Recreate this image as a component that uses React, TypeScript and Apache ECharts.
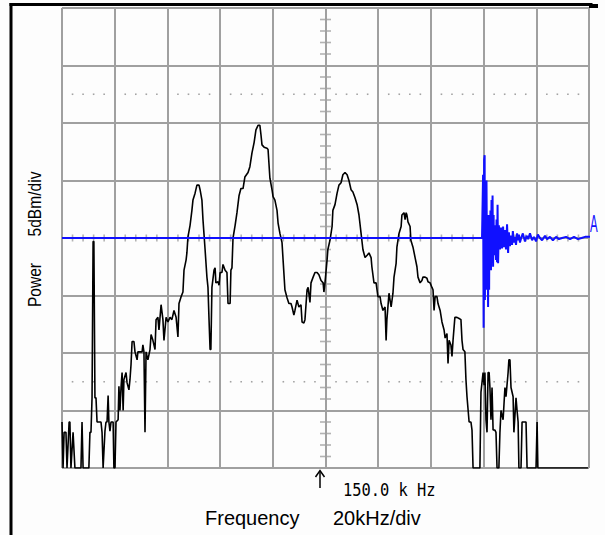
import React, { useEffect, useRef } from "react";
import * as echarts from "echarts";

// ---- Data (frequency in kHz, level in dBm; 20 kHz/div, 5 dBm/div) ----
const spectrumFreqKHz = [
  50.0, 50.4, 50.8, 51.5, 51.9, 52.7, 53.0, 53.4, 54.2, 54.9, 57.2, 57.6, 58.0, 60.2, 60.6, 61.0, 61.4, 61.8, 62.1, 62.5,
  62.9, 63.3, 64.8, 65.2, 65.6, 66.3, 66.7, 67.1, 67.5, 67.8, 68.2, 68.6, 69.4, 69.7, 70.1, 70.5, 71.3, 71.6, 72.0, 72.4,
  72.8, 73.2, 73.5, 74.3, 74.7, 75.4, 75.8, 76.2, 76.6, 77.3, 77.7, 78.5, 78.8, 79.6, 80.4, 80.7, 81.1, 81.5, 81.9, 82.6,
  83.4, 83.8, 84.5, 85.3, 85.7, 86.4, 86.8, 87.6, 88.3, 88.7, 89.5, 90.2, 91.0, 91.7, 92.5, 93.3, 94.0, 94.4, 95.2, 95.9,
  96.3, 97.1, 97.4, 97.8, 98.6, 99.3, 99.7, 100.5, 101.2, 102.0, 102.4, 103.1, 103.5, 104.3, 105.0, 105.4, 105.8, 106.2, 106.5, 106.9,
  107.7, 108.1, 108.4, 109.2, 109.6, 110.0, 110.7, 111.1, 111.9, 112.6, 113.0, 113.8, 114.1, 114.5, 114.9, 115.7, 116.4, 117.2, 117.9, 118.7,
  119.4, 120.6, 121.3, 122.1, 122.9, 123.6, 124.4, 125.1, 125.5, 125.9, 126.7, 127.8, 128.2, 128.9, 129.7, 130.1, 130.8, 131.6, 132.0, 132.7,
  133.5, 133.9, 134.6, 135.4, 136.1, 136.9, 137.3, 138.0, 138.4, 139.2, 139.9, 140.7, 141.1, 141.8, 142.2, 143.0, 143.4, 144.1, 144.5, 145.3,
  146.0, 146.8, 147.5, 148.3, 149.1, 149.4, 149.8, 150.6, 150.9, 151.7, 152.5, 152.8, 153.6, 154.4, 155.1, 155.9, 156.6, 157.4, 158.2, 158.9,
  159.7, 160.4, 161.2, 162.0, 162.7, 163.5, 164.2, 165.0, 165.8, 166.5, 167.3, 167.6, 168.4, 169.2, 169.9, 170.7, 171.1, 171.8, 172.6, 173.0,
  173.3, 174.1, 174.9, 175.6, 176.0, 176.8, 177.1, 177.9, 178.7, 179.0, 179.8, 180.2, 180.6, 180.9, 181.3, 182.1, 182.4, 183.2, 184.0, 184.7,
  185.1, 185.9, 186.6, 187.0, 187.8, 188.5, 188.9, 189.7, 190.4, 190.8, 191.2, 191.6, 192.3, 192.7, 193.5, 194.2, 195.0, 195.4, 196.1, 196.5,
  196.9, 197.6, 198.0, 198.4, 199.1, 199.9, 200.7, 201.4, 201.8, 202.2, 202.9, 203.3, 203.7, 204.5, 205.2, 205.6, 206.0, 208.6, 209.0, 209.8,
  210.2, 210.5, 210.9, 211.3, 211.7, 212.1, 212.4, 212.8, 213.2, 213.6, 214.3, 214.7, 215.1, 215.8, 216.2, 216.6, 217.4, 218.1, 218.5, 219.3,
  219.6, 220.0, 220.4, 221.2, 221.5, 222.3, 222.7, 223.1, 223.4, 224.2, 224.6, 226.1, 226.5, 229.9, 230.3, 230.6, 249.6,
];
const spectrumLevelDbm = [
  -36.0, -40.0, -36.9, -36.9, -40.0, -36.0, -36.0, -40.0, -36.9, -40.0, -40.0, -36.0, -40.0, -40.0, -36.9, -36.9, -33.9, -20.3, -20.3, -33.9,
  -33.9, -36.0, -36.0, -36.9, -40.0, -36.8, -36.0, -36.0, -33.7, -36.0, -36.8, -36.0, -36.0, -40.0, -40.0, -36.0, -35.8, -32.9, -35.0, -33.0,
  -31.7, -35.0, -32.3, -31.7, -32.6, -33.2, -32.3, -31.0, -29.0, -29.0, -29.9, -30.6, -29.9, -29.9, -29.9, -29.3, -29.9, -36.9, -29.9, -30.6,
  -29.7, -28.4, -28.9, -29.7, -27.1, -26.9, -28.0, -25.8, -27.1, -28.9, -26.9, -27.3, -26.9, -27.1, -26.3, -26.9, -28.6, -25.7, -25.1, -24.7,
  -22.8, -21.9, -21.3, -19.9, -18.9, -17.6, -16.7, -16.1, -15.4, -15.4, -15.8, -16.7, -18.4, -21.0, -23.4, -24.3, -27.1, -29.7, -29.7, -24.3,
  -22.8, -22.6, -23.9, -23.8, -24.1, -23.0, -23.0, -22.3, -22.8, -23.0, -25.7, -25.7, -22.8, -22.6, -20.0, -18.9, -17.8, -16.3, -15.7, -15.7,
  -14.7, -14.3, -13.8, -12.6, -11.7, -10.6, -10.2, -10.2, -11.0, -11.9, -12.1, -12.2, -12.3, -14.8, -15.8, -16.4, -16.7, -17.6, -18.7, -19.6,
  -20.4, -21.9, -24.5, -25.2, -25.7, -25.7, -26.0, -26.7, -26.3, -25.4, -26.0, -25.8, -27.3, -27.4, -27.1, -24.5, -24.3, -25.6, -23.9, -23.4,
  -23.0, -23.0, -23.2, -23.7, -23.9, -24.7, -23.9, -21.9, -21.0, -20.2, -19.0, -17.6, -17.1, -16.1, -15.4, -15.2, -14.5, -14.3, -14.5, -15.0,
  -15.8, -16.0, -16.5, -17.1, -18.0, -19.6, -21.0, -21.7, -21.5, -21.3, -21.7, -22.5, -23.9, -23.9, -25.1, -25.1, -25.7, -26.3, -26.0, -28.9,
  -27.1, -24.8, -26.0, -24.8, -23.4, -22.2, -20.8, -19.6, -19.0, -18.0, -17.8, -18.4, -17.8, -18.0, -18.6, -19.0, -20.2, -20.8, -21.7, -22.5,
  -23.4, -23.9, -23.7, -23.4, -23.4, -23.5, -23.8, -23.9, -24.3, -24.5, -26.3, -25.1, -25.1, -25.7, -26.3, -27.3, -28.0, -28.7, -28.3, -30.9,
  -28.9, -29.3, -30.3, -28.9, -26.9, -26.9, -27.0, -27.1, -28.9, -29.7, -29.9, -32.3, -33.8, -36.0, -36.0, -36.7, -40.0, -40.0, -33.4, -31.7,
  -32.8, -31.7, -35.8, -36.9, -31.7, -31.7, -33.0, -35.8, -33.0, -36.7, -36.7, -36.9, -40.0, -40.0, -36.9, -35.0, -35.8, -33.0, -33.8, -31.7,
  -30.6, -30.6, -33.0, -33.8, -36.9, -33.9, -35.0, -36.0, -40.0, -40.0, -36.0, -36.0, -40.0, -40.0, -36.0, -40.0, -40.0,
];

const burstFreqKHz = [
  50.0, 209.4, 209.8, 210.0, 210.2, 210.4, 210.5, 210.7, 210.9, 211.1, 211.3, 211.5, 211.7, 211.9, 212.1, 212.2, 212.4, 212.6, 212.8, 213.0,
  213.2, 213.4, 213.6, 213.8, 213.9, 214.3, 214.7, 214.9, 215.1, 215.3, 215.5, 215.8, 216.2, 216.6, 217.0, 217.4, 217.7, 218.1, 218.5, 218.9,
  219.3, 219.6, 220.0, 220.4, 220.8, 221.1, 221.5, 221.9, 222.3, 222.7, 223.1, 223.4, 223.8, 224.4, 224.9, 225.7, 226.3, 226.9, 227.6, 228.4,
  229.1, 229.9, 230.6, 231.4, 232.2, 233.3, 234.1, 235.2, 236.3, 237.5, 238.6, 239.8, 241.3, 242.8, 244.3, 245.8, 247.2, 248.5, 250.4, 253.0,
];
const burstLevelDbm = [
  -20.0, -20.0, -14.5, -27.8, -13.2, -12.8, -25.4, -16.7, -24.5, -15.0, -22.8, -19.3, -26.0, -18.0, -24.5, -18.9, -22.3, -17.6, -22.8, -16.7,
  -22.1, -16.3, -22.5, -18.0, -21.5, -18.9, -21.9, -18.4, -22.1, -17.1, -22.2, -18.9, -21.0, -19.1, -20.9, -19.0, -20.8, -19.3, -21.0, -18.8,
  -21.3, -19.5, -20.7, -19.8, -20.6, -19.4, -20.4, -19.9, -20.6, -19.6, -20.2, -19.7, -20.4, -19.9, -19.6, -20.3, -19.8, -20.1, -19.6, -20.2,
  -19.9, -20.3, -19.7, -20.0, -20.2, -19.8, -20.1, -19.9, -20.2, -19.9, -20.1, -20.0, -19.9, -20.1, -19.9, -20.1, -20.0, -19.9, -19.9, -19.9,
];

// Axis definitions (tick values)
const freqMinKHz = 50;
const freqMaxKHz = 250;
const freqPerDivKHz = 20;
const levelMinDbm = -40;
const levelMaxDbm = 0;
const levelPerDivDbm = 5;
const centerFreqKHz = 150;
const centerLevelDbm = -20;
const dottedLevelsDbm = [-7.5, -32.5];

const GRID_COLOR = "#a0a0a0";

function buildDecorations() {
  const dots: number[][] = [];
  const hTicks: number[][] = [];
  const vTicks: number[][] = [];
  const minorF = freqPerDivKHz / 5;
  for (let f = freqMinKHz; f <= freqMaxKHz + 1e-6; f += minorF) {
    const r = (f - freqMinKHz) / freqPerDivKHz;
    const onDiv = Math.abs(r - Math.round(r)) < 1e-6;
    if (!onDiv) {
      for (const l of dottedLevelsDbm) dots.push([f, l]);
      hTicks.push([f, centerLevelDbm]);
    }
  }
  const minorL = levelPerDivDbm / 5;
  for (let l = levelMinDbm; l <= levelMaxDbm + 1e-6; l += minorL) {
    if (Math.abs(l % levelPerDivDbm) > 1e-6) vTicks.push([centerFreqKHz, l]);
  }
  return { dots, hTicks, vTicks };
}

export default function App() {
  const ref = useRef<HTMLDivElement>(null);
  useEffect(() => {
    if (!ref.current) return;
    const chart = echarts.init(ref.current, undefined, { renderer: "svg" });
    const { dots, hTicks, vTicks } = buildDecorations();
    const spectrum = spectrumFreqKHz.map((f, i) => [f, spectrumLevelDbm[i]]);
    const burst = burstFreqKHz.map((f, i) => [f, burstLevelDbm[i]]);
    const divCount = (freqMaxKHz - freqMinKHz) / freqPerDivKHz;

    const vText = (text: string, y: number) => ({
      type: "text",
      x: 34,
      y,
      rotation: Math.PI / 2,
      scaleX: 0.82,
      style: {
        text,
        fontSize: 19,
        fontFamily: "Liberation Sans",
        fill: "#000",
        textAlign: "center",
        textVerticalAlign: "middle",
        align: "center",
        verticalAlign: "middle",
      },
    });

    chart.setOption({
      animation: false,
      backgroundColor: "#fdfdfd",
      grid: { left: 62, right: 16, top: 8, bottom: 67, show: false },
      xAxis: [
        {
          type: "value",
          min: freqMinKHz,
          max: freqMaxKHz,
          show: false,
        },
        {
          type: "value",
          min: 0,
          max: divCount,
          interval: 1,
          position: "top",
          axisLine: { show: false },
          axisTick: { show: false },
          axisLabel: { show: false },
          splitLine: { show: true, lineStyle: { color: GRID_COLOR, width: 2 } },
        },
      ],
      yAxis: {
        type: "value",
        min: levelMinDbm,
        max: levelMaxDbm,
        interval: levelPerDivDbm,
        axisLine: { show: false },
        axisTick: { show: false },
        axisLabel: { show: false },
        splitLine: { show: true, lineStyle: { color: GRID_COLOR, width: 2 } },
      },
      series: [
        {
          type: "scatter",
          xAxisIndex: 0,
          data: dots,
          symbol: "rect",
          symbolSize: 1.6,
          itemStyle: { color: "#8c8c8c" },
          silent: true,
          z: 1,
        },
        {
          type: "scatter",
          xAxisIndex: 0,
          data: hTicks,
          symbol: "rect",
          symbolSize: [1.6, 7],
          itemStyle: { color: GRID_COLOR },
          silent: true,
          z: 1,
        },
        {
          type: "scatter",
          xAxisIndex: 0,
          data: vTicks,
          symbol: "rect",
          symbolSize: [11, 1.6],
          itemStyle: { color: GRID_COLOR },
          silent: true,
          z: 1,
        },
        {
          type: "line",
          xAxisIndex: 0,
          data: spectrum,
          showSymbol: false,
          symbol: "none",
          lineStyle: { color: "#000000", width: 1.6 },
          silent: true,
          z: 3,
        },
        {
          type: "line",
          xAxisIndex: 0,
          data: burst,
          showSymbol: false,
          symbol: "none",
          clip: false,
          lineStyle: { color: "#1010ff", width: 2 },
          silent: true,
          z: 4,
        },
      ],
      graphic: [
        { type: "rect", shape: { x: 9.5, y: 3, width: 3, height: 532 }, style: { fill: "#000" } },
        { type: "rect", shape: { x: 9.5, y: 3, width: 583, height: 3 }, style: { fill: "#000" } },
        { type: "rect", shape: { x: 589, y: 4, width: 9, height: 4 }, style: { fill: "#000" } },
        vText("5dBm/div", 204),
        vText("Power", 285),
        {
          type: "text",
          x: 205,
          y: 518,
          style: {
            text: "Frequency",
            fontSize: 20,
            fontFamily: "Liberation Sans",
            fill: "#000",
            textAlign: "left",
            textVerticalAlign: "middle",
            align: "left",
            verticalAlign: "middle",
          },
        },
        {
          type: "text",
          x: 333,
          y: 518,
          style: {
            text: "20kHz/div",
            fontSize: 20,
            fontFamily: "Liberation Sans",
            fill: "#000",
            textAlign: "left",
            textVerticalAlign: "middle",
            align: "left",
            verticalAlign: "middle",
          },
        },
        {
          type: "text",
          x: 343,
          y: 490,
          scaleY: 1.15,
          style: {
            text: "150.0 k Hz",
            fontSize: 15.4,
            fontFamily: "DejaVu Sans Mono",
            fill: "#000",
            textAlign: "left",
            textVerticalAlign: "middle",
            align: "left",
            verticalAlign: "middle",
          },
        },
        {
          type: "text",
          x: 590,
          y: 224,
          scaleX: 0.5,
          style: {
            text: "A",
            fontSize: 23,
            fontFamily: "Liberation Sans",
            fill: "#1010ff",
            textAlign: "left",
            textVerticalAlign: "middle",
            align: "left",
            verticalAlign: "middle",
          },
        },
        { type: "line", shape: { x1: 320, y1: 488, x2: 320, y2: 471 }, style: { stroke: "#000", lineWidth: 1.5 } },
        {
          type: "polyline",
          shape: { points: [[315.5, 477], [320, 470.5], [324.5, 477]] },
          style: { stroke: "#000", lineWidth: 1.5, fill: null },
        },
      ],
    });
    return () => chart.dispose();
  }, []);

  return (
    <div
      ref={ref}
      style={{ position: "absolute", left: 0, top: 0, width: 605, height: 535, background: "#fdfdfd" }}
    />
  );
}
